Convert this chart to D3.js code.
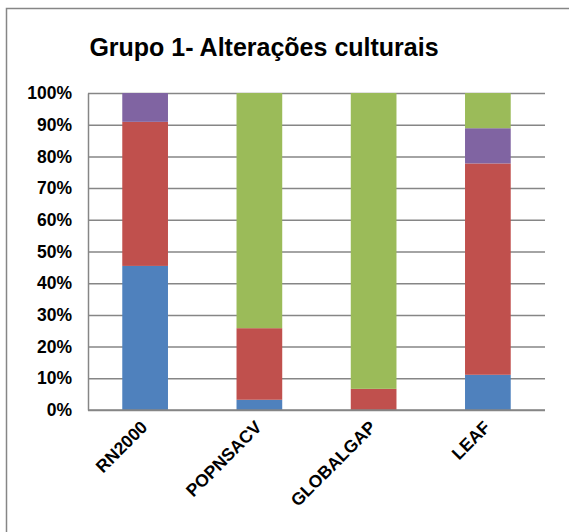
<!DOCTYPE html>
<html>
<head>
<meta charset="utf-8">
<script src="https://cdn.jsdelivr.net/npm/d3@7"></script>
<style>
  body { margin: 0; background: #fff; }
  svg { display: block; font-family: "Liberation Sans", Arial, sans-serif; }
</style>
</head>
<body>
<svg id="chart"></svg>
<script>
// categories and series (share of each, in %)
var categories = ["RN2000", "POPNSACV", "GLOBALGAP", "LEAF"];
var serieNames = ["s1", "s2", "s3", "s4"];
var s1 = [45.45, 3.23, 0, 11.11];
var s2 = [45.45, 22.58, 6.67, 66.67];
var s3 = [9.10, 0, 0, 11.11];
var s4 = [0, 74.19, 93.33, 11.11];
var yTicks = [0, 10, 20, 30, 40, 50, 60, 70, 80, 90, 100];
var titleText = "Grupo 1- Alterações culturais";

var colors = ["#4F81BD", "#C0504D", "#8064A2", "#9BBB59"];

var svgWidth = 569, svgHeight = 532;
var svg = d3.select("#chart")
    .attr("width", svgWidth)
    .attr("height", svgHeight);

// outer chart frame (runs off the right and bottom edge)
svg.append("rect")
    .attr("x", 6.5).attr("y", 8.5)
    .attr("width", 600).attr("height", 600)
    .attr("fill", "none")
    .attr("stroke", "#868686")
    .attr("stroke-width", 1.5);

svg.append("text")
    .attr("x", 264)
    .attr("y", 56)
    .attr("text-anchor", "middle")
    .attr("font-size", "25px")
    .attr("font-weight", "bold")
    .text(titleText);

var plotLeft = 88, plotRight = 545, plotTop = 93, plotBottom = 410;

var x = d3.scaleBand()
    .domain(categories)
    .range([plotLeft, plotRight])
    .paddingInner(0.6)
    .paddingOuter(0.3);

var y = d3.scaleLinear()
    .domain([0, 100])
    .range([plotBottom, plotTop]);

// build table for stack
var table = categories.map(function(c, i) {
    return { cat: c, s1: s1[i], s2: s2[i], s3: s3[i], s4: s4[i] };
});
var stacked = d3.stack().keys(serieNames)(table);

// gridlines
var grid = svg.append("g")
    .attr("transform", "translate(" + plotLeft + ",0)")
    .call(d3.axisLeft(y).tickValues(yTicks).tickSize(-(plotRight - plotLeft)).tickFormat(""));
grid.select(".domain").remove();
grid.selectAll("line")
    .attr("stroke", "#868686")
    .attr("stroke-width", 1.5);

// bars
svg.append("g")
    .selectAll("g")
    .data(stacked)
    .enter()
    .append("g")
    .attr("fill", function(d, i) { return colors[i]; })
    .selectAll("rect")
    .data(function(d) { return d; })
    .enter()
    .append("rect")
    .attr("x", function(d) { return x(d.data.cat); })
    .attr("width", x.bandwidth())
    .attr("y", function(d) { return y(d[1]); })
    .attr("height", function(d) { return y(d[0]) - y(d[1]); });

// y axis labels
var yAxis = svg.append("g")
    .attr("transform", "translate(" + plotLeft + ",0)")
    .call(d3.axisLeft(y).tickValues(yTicks).tickSize(0).tickPadding(16)
        .tickFormat(function(d) { return d + "%"; }));
yAxis.select(".domain")
    .attr("stroke", "#868686")
    .attr("stroke-width", 1.5);
yAxis.selectAll("text")
    .attr("font-family", "Liberation Sans, Arial, sans-serif")
    .attr("font-size", "17.5px")
    .attr("font-weight", "bold")
    .attr("fill", "#000");

// x axis
var xAxis = svg.append("g")
    .attr("transform", "translate(0," + plotBottom + ")")
    .call(d3.axisBottom(x).tickSize(0).tickPadding(0));
xAxis.select(".domain")
    .attr("d", "M" + plotLeft + ",0H" + plotRight)
    .attr("stroke", "#868686")
    .attr("stroke-width", 1.5);
xAxis.selectAll("text")
    .attr("font-family", "Liberation Sans, Arial, sans-serif")
    .attr("font-size", "17.5px")
    .attr("font-weight", "bold")
    .attr("fill", "#000")
    .attr("text-anchor", "end")
    .attr("dy", "0.35em")
    .attr("transform", "translate(-1,14) rotate(-45)");
</script>
</body>
</html>
